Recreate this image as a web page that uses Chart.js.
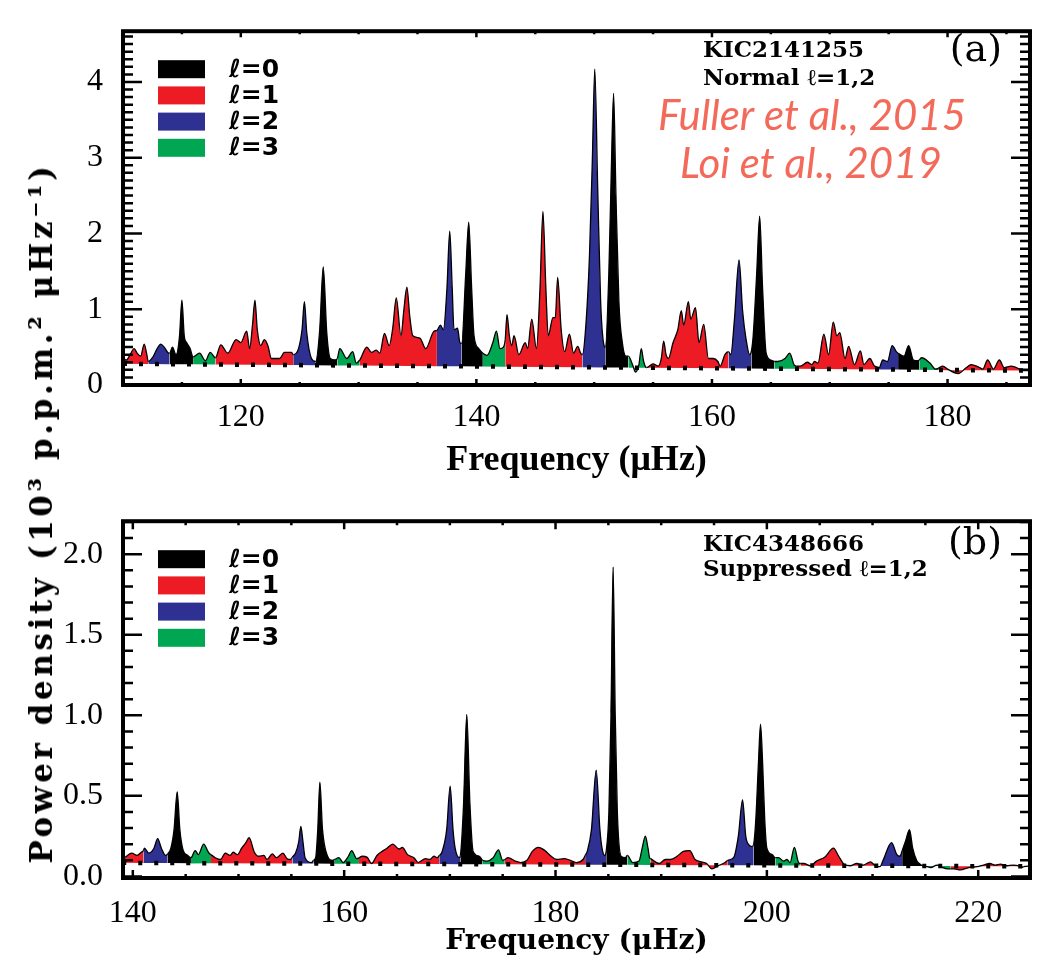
<!DOCTYPE html>
<html>
<head>
<meta charset="utf-8">
<script src="https://cdn.jsdelivr.net/npm/chart.js@4/dist/chart.umd.min.js"></script>
<style>
  body { margin: 0; background: #fff; width: 1039px; height: 966px; position: relative; overflow: hidden; }
  canvas { position: absolute; left: 0; }
  #chartA { top: 0; }
  #chartB { top: 490px; }
  #ytitle {
    position: absolute; left: 41px; top: 513px;
    transform: translate(-50%, -50%) rotate(-90deg);
    white-space: nowrap; font: bold 31px 'DejaVu Serif'; letter-spacing: 3.6px; color: #000;
  }
</style>
</head>
<body>
<canvas id="chartA" width="1039" height="490"></canvas>
<canvas id="chartB" width="1039" height="476"></canvas>
<div id="ytitle">Power density (10³ p.p.m.² μHz⁻¹)</div>
<script>
const modeLabels = ['ℓ=0', 'ℓ=1', 'ℓ=2', 'ℓ=3'];
const modeColors = ['#000000', '#ED1C24', '#2E3192', '#00A651'];

// panel (a) KIC2141255 - power spectrum, frequency in muHz, power in 10^3 ppm^2/muHz
const freqA = [
  110.0, 110.3, 110.6, 110.95, 111.2, 111.5, 111.8, 112.0,
  112.15, 112.5, 112.9, 113.2, 113.5, 113.8,
  113.95, 114.2, 114.5, 114.8, 115.0, 115.2, 115.4, 115.7,
  115.95, 116.5, 117.0, 117.4,
  117.85, 118.3, 118.9, 119.6, 120.0, 120.5, 120.75, 121.0, 121.2, 121.4, 121.7, 122.0, 122.3, 122.6, 123.3, 123.7, 124.3,
  124.45, 124.9, 125.2, 125.4, 125.6, 126.0,
  126.35, 126.7, 127.0, 127.3, 127.6, 128.0,
  128.2, 128.4, 129.0, 129.5, 129.8,
  130.1, 130.7, 131.1, 131.5, 131.8, 132.2, 132.6, 132.9, 133.2, 133.6, 133.85, 134.1, 134.35, 134.6, 135.2, 135.7, 136.4,
  136.65, 136.95, 137.2, 137.5, 137.74, 137.95, 138.1, 138.4, 138.6,
  138.75, 139.1, 139.35, 139.6, 139.8, 140.2,
  140.55, 140.9, 141.4, 141.7, 142.0, 142.3,
  142.45, 142.6, 142.8, 143.0, 143.2, 143.6, 144.15, 144.35, 144.7, 145.1, 145.4, 145.65, 145.9, 146.1, 146.5, 146.7, 146.9, 147.2, 147.5, 147.9, 148.25, 148.6, 148.85,
  149.0, 149.3, 149.6, 149.85, 150.05, 150.3, 150.55, 150.8,
  150.95, 151.25, 151.45, 151.65, 151.85, 152.1, 152.4, 152.7,
  152.9, 153.3, 153.5, 153.8, 154.0, 154.2,
  154.45, 155.0, 155.45, 155.7, 155.9, 156.1, 156.3, 156.7, 157.1, 157.4, 157.6, 158.0, 158.2, 158.6, 158.9, 159.3, 159.7, 160.1, 160.5, 160.7, 161.1,
  161.4, 161.6, 161.9, 162.3, 162.6, 162.9, 163.2,
  163.35, 163.5, 163.8, 164.05, 164.3, 164.6, 165.0,
  165.3, 165.6, 166.2, 166.6, 167.0,
  167.2, 167.5, 168.1, 168.5, 168.7, 169.0, 169.5, 169.9, 170.3, 170.6, 170.85, 171.3, 171.6, 172.1, 172.6, 172.9, 173.4, 173.8,
  174.0, 174.2, 174.5, 174.9, 175.3, 175.65,
  175.8, 176.3, 176.7, 177.1, 177.45,
  177.6, 177.8, 178.5, 179.0,
  179.2, 179.6, 180.0, 180.9, 181.6, 182.0, 182.6, 183.0, 183.4, 183.9, 184.4, 184.8, 185.4, 185.7, 186.1,
  186.3, 187.0
];
const powerA = [
  0.36, 0.33, 0.40, 0.48, 0.42, 0.38, 0.54, 0.42,
  0.31, 0.36, 0.48, 0.54, 0.50, 0.43,
  0.42, 0.50, 0.40, 0.65, 1.12, 0.65, 0.56, 0.48,
  0.37, 0.42, 0.32, 0.43,
  0.36, 0.53, 0.42, 0.60, 0.56, 0.71, 0.48, 0.80, 1.12, 0.73, 0.52, 0.60, 0.52, 0.35, 0.35, 0.43, 0.43,
  0.40, 0.48, 0.73, 1.10, 0.69, 0.35,
  0.31, 0.73, 1.56, 0.69, 0.35, 0.33,
  0.35, 0.48, 0.35, 0.44, 0.29,
  0.33, 0.50, 0.43, 0.46, 0.42, 0.68, 0.52, 0.75, 1.15, 0.65, 1.00, 1.29, 0.90, 0.65, 0.62, 0.48, 0.71,
  0.72, 0.79, 0.73, 1.27, 2.03, 1.27, 0.73, 0.75, 0.56,
  0.55, 1.48, 2.15, 1.27, 0.65, 0.48,
  0.42, 0.39, 0.56, 0.71, 0.48, 0.50,
  0.60, 0.93, 0.65, 0.52, 0.65, 0.40, 0.56, 0.48, 0.87, 0.48, 1.27, 2.29, 1.27, 0.65, 0.89, 0.89, 1.42, 0.73, 0.44, 0.67, 0.42, 0.51, 0.42,
  0.40, 0.80, 1.70, 3.00, 4.17, 2.60, 1.10, 0.55,
  0.50, 1.50, 2.80, 3.85, 2.50, 1.10, 0.55, 0.38,
  0.38, 0.25, 0.17, 0.27, 0.48, 0.31,
  0.23, 0.28, 0.25, 0.35, 0.58, 0.40, 0.35, 0.56, 0.73, 0.98, 0.79, 1.10, 0.87, 1.02, 0.56, 0.80, 0.35, 0.35, 0.31, 0.25, 0.40,
  0.44, 0.40, 0.85, 1.65, 0.98, 0.60, 0.40,
  0.45, 0.65, 1.48, 2.23, 1.27, 0.42, 0.33,
  0.31, 0.31, 0.35, 0.42, 0.26,
  0.25, 0.25, 0.30, 0.27, 0.31, 0.29, 0.67, 0.40, 0.83, 0.65, 0.69, 0.35, 0.51, 0.27, 0.45, 0.27, 0.35, 0.25,
  0.24, 0.23, 0.33, 0.31, 0.52, 0.44,
  0.42, 0.38, 0.52, 0.33, 0.32,
  0.33, 0.36, 0.29, 0.21,
  0.22, 0.25, 0.21, 0.15, 0.23, 0.27, 0.24, 0.21, 0.33, 0.21, 0.33, 0.23, 0.25, 0.24, 0.21,
  0.19, 0.19
];
// where each coloured mode region starts, and its degree
const runStartA = [110.0, 112.15, 113.95, 115.95, 117.85, 124.45, 126.35, 128.2, 130.1, 136.65, 138.75, 140.55, 142.45,
  149.0, 150.95, 152.9, 154.45, 161.4, 163.35, 165.3, 167.2, 174.0, 175.8, 177.6, 179.2, 186.3];
const runModeA = [1, 2, 0, 3, 1, 2, 0, 3, 1, 2, 0, 3, 1, 2, 0, 3, 1, 2, 0, 3, 1, 2, 0, 3, 1, 2];
// background level (dotted)
const bgFreqA = [110, 187];
const bgPowerA = [0.28, 0.19];

// panel (b) KIC4348666
const freqB = [
  139.0, 139.3, 139.9, 140.4, 140.8,
  141.0, 141.1, 141.5, 142.0, 142.35, 142.7, 143.1,
  143.3, 143.6, 143.9, 144.2, 144.45, 144.75, 145.2,
  145.5, 145.9, 146.2, 146.7, 147.2,
  147.4, 147.8, 148.3, 148.75, 149.2, 149.5, 149.9, 150.3, 150.7, 151.0, 151.5, 151.9, 152.4, 152.7, 153.2, 153.6, 154.2, 154.6, 154.9,
  155.1, 155.4, 155.7, 155.9, 156.1, 156.3, 156.9,
  157.1, 157.3, 157.5, 157.7, 157.95, 158.4, 158.9,
  159.1, 159.5, 159.9, 160.4, 160.7, 161.2,
  161.4, 161.7, 162.15, 162.6, 163.1, 163.7, 164.05, 164.6, 165.2, 165.5, 166.0, 166.6, 167.0, 167.7, 168.1, 168.5, 168.8,
  169.0, 169.25, 169.7, 170.03, 170.3, 170.5, 170.9,
  171.0, 171.3, 171.6, 171.9, 172.2, 172.8,
  173.1, 173.5, 174.1, 174.6, 175.0,
  175.2, 175.5, 176.2, 176.7, 177.3, 177.8, 178.4, 179.0, 179.5, 180.1, 180.8, 181.4, 182.0, 182.6,
  182.8, 183.0, 183.4, 183.85, 184.2, 184.4, 184.65,
  184.8, 185.05, 185.25, 185.45, 185.65, 185.85, 186.2, 186.6,
  186.8, 187.3, 187.9, 188.2, 188.5, 188.75, 188.9,
  189.0, 189.8, 190.4, 190.9, 191.5, 192.1, 192.7, 193.2, 193.8, 194.3, 194.8, 195.4, 196.05,
  196.3, 196.85, 197.3, 197.7, 198.0, 198.3, 198.6,
  198.75, 198.95, 199.2, 199.4, 199.6, 199.8, 200.0, 200.5,
  200.8, 201.1, 201.6, 201.9, 202.2, 202.6, 203.0,
  203.2, 203.5, 204.1, 204.7, 205.5, 206.3, 206.8, 207.3, 207.9, 208.5, 209.1, 209.8, 210.2,
  210.5, 210.7, 211.0, 211.8, 212.3, 212.6,
  212.8, 213.1, 213.5, 213.8, 214.2, 214.5,
  214.8, 215.2, 215.5, 216.1, 216.6, 217.1,
  217.4, 217.7, 218.3, 219.1, 219.9, 220.5, 221.1, 221.6, 222.1, 222.7, 223.3, 223.8, 224.1,
  224.3, 225.0
];
const powerB = [
  0.110, 0.120, 0.145, 0.130, 0.150,
  0.160, 0.175, 0.145, 0.175, 0.234, 0.175, 0.130,
  0.140, 0.175, 0.290, 0.525, 0.290, 0.165, 0.130,
  0.116, 0.160, 0.135, 0.200, 0.145,
  0.135, 0.116, 0.105, 0.145, 0.130, 0.150, 0.135, 0.175, 0.210, 0.240, 0.150, 0.125, 0.130, 0.105, 0.140, 0.116, 0.145, 0.110, 0.105,
  0.120, 0.145, 0.215, 0.310, 0.215, 0.116, 0.086,
  0.100, 0.116, 0.290, 0.585, 0.290, 0.130, 0.100,
  0.105, 0.116, 0.086, 0.125, 0.160, 0.110,
  0.115, 0.125, 0.120, 0.080, 0.130, 0.160, 0.175, 0.200, 0.170, 0.180, 0.135, 0.116, 0.086, 0.110, 0.105, 0.125, 0.116,
  0.130, 0.150, 0.290, 0.560, 0.290, 0.175, 0.116,
  0.130, 0.450, 1.006, 0.450, 0.155, 0.125,
  0.100, 0.095, 0.116, 0.165, 0.100,
  0.105, 0.116, 0.095, 0.086, 0.100, 0.155, 0.180, 0.160, 0.130, 0.105, 0.110, 0.100, 0.086, 0.105,
  0.130, 0.155, 0.290, 0.660, 0.290, 0.175, 0.130,
  0.160, 0.400, 1.000, 1.920, 1.000, 0.400, 0.125, 0.116,
  0.130, 0.086, 0.095, 0.175, 0.250, 0.175, 0.116,
  0.110, 0.080, 0.105, 0.105, 0.125, 0.155, 0.160, 0.105, 0.090, 0.080, 0.047, 0.066, 0.086,
  0.100, 0.116, 0.250, 0.475, 0.250, 0.195, 0.185,
  0.200, 0.350, 0.700, 0.945, 0.700, 0.350, 0.175, 0.135,
  0.116, 0.116, 0.095, 0.105, 0.086, 0.180, 0.086,
  0.080, 0.080, 0.066, 0.095, 0.120, 0.175, 0.125, 0.076, 0.066, 0.080, 0.070, 0.090, 0.070,
  0.060, 0.060, 0.100, 0.210, 0.135, 0.125,
  0.160, 0.215, 0.290, 0.175, 0.095, 0.076,
  0.065, 0.060, 0.055, 0.070, 0.055, 0.047,
  0.047, 0.047, 0.040, 0.055, 0.060, 0.070, 0.080, 0.070, 0.076, 0.066, 0.070, 0.066, 0.055,
  0.060, 0.065
];
const runStartB = [139.0, 141.0, 143.3, 145.5, 147.4, 155.1, 157.1, 159.1, 161.4, 169.0, 171.0, 173.1, 175.2,
  182.8, 184.8, 186.8, 189.0, 196.3, 198.75, 200.8, 203.2, 210.5, 212.8, 214.8, 217.4, 224.3];
const runModeB = [1, 2, 0, 3, 1, 2, 0, 3, 1, 2, 0, 3, 1, 2, 0, 3, 1, 2, 0, 3, 1, 2, 0, 3, 1, 2];
const bgFreqB = [139, 225];
const bgPowerB = [0.084, 0.062];

const notesA = [
  { text: 'KIC2141255', x: 703, y: 57, font: 'bold 23px "DejaVu Serif"', color: '#000', align: 'left' },
  { text: 'Normal ℓ=1,2', x: 703, y: 85, font: 'bold 23px "DejaVu Serif"', color: '#000', align: 'left' },
  { text: '(a)', x: 1002, y: 61, font: '38px "DejaVu Serif"', color: '#000', align: 'right' },
  { text: 'Fuller et al., 2015', x: 812, y: 130, font: 'italic 42px Lato', color: '#F46A5A', align: 'center' },
  { text: 'Loi et al., 2019', x: 811, y: 178, font: 'italic 42px Lato', color: '#F46A5A', align: 'center' }
];
const notesB = [
  { text: 'KIC4348666', x: 703, y: 61, font: 'bold 23px "DejaVu Serif"', color: '#000', align: 'left' },
  { text: 'Suppressed ℓ=1,2', x: 703, y: 86, font: 'bold 23px "DejaVu Serif"', color: '#000', align: 'left' },
  { text: '(b)', x: 1002, y: 64, font: '38px "DejaVu Serif"', color: '#000', align: 'right' }
];

function runColor(starts, modes) {
  return ctx => {
    const x0 = ctx.p0.parsed.x;
    let k = 0;
    while (k + 1 < starts.length && starts[k + 1] <= x0 + 1e-9) k++;
    return modeColors[modes[k]];
  };
}

// inward ticks, thick frame, legend and text notes
const decor = {
  id: 'decor',
  afterDraw(chart, args, o) {
    const { ctx, chartArea: a, scales: { x, y } } = chart;
    ctx.save();
    ctx.strokeStyle = '#000';
    ctx.lineWidth = 2.5;
    ctx.beginPath();
    for (let k = Math.ceil(x.min / o.xMinor); k * o.xMinor <= x.max; k++) {
      const px = x.getPixelForValue(k * o.xMinor);
      const len = (k % o.xEvery === 0) ? o.xMajorLen : o.xMinorLen;
      ctx.moveTo(px, a.bottom); ctx.lineTo(px, a.bottom - len);
      ctx.moveTo(px, a.top); ctx.lineTo(px, a.top + len);
    }
    for (let k = Math.ceil(y.min / o.yMinor - 1e-6); k * o.yMinor <= y.max + 1e-9; k++) {
      const py = y.getPixelForValue(k * o.yMinor);
      const len = (k % o.yEvery === 0) ? o.yMajorLen : o.yMinorLen;
      ctx.moveTo(a.left, py); ctx.lineTo(a.left + len, py);
      ctx.moveTo(a.right, py); ctx.lineTo(a.right - len, py);
    }
    ctx.stroke();
    ctx.lineWidth = 4;
    ctx.strokeRect(a.left, a.top, a.right - a.left, a.bottom - a.top);

    // legend
    modeLabels.forEach((lab, i) => {
      const top = a.top + 29 + i * 26.2;
      ctx.fillStyle = modeColors[i];
      ctx.fillRect(a.left + 35, top, 47, 18);
      ctx.fillStyle = '#000';
      ctx.font = 'bold 25px "DejaVu Sans"';
      ctx.textAlign = 'left';
      ctx.textBaseline = 'middle';
      ctx.fillText(lab, a.left + 106, top + 10);
    });

    ctx.textBaseline = 'alphabetic';
    o.notes.forEach(n => {
      ctx.font = n.font;
      ctx.fillStyle = n.color;
      ctx.textAlign = n.align;
      ctx.fillText(n.text, n.x, n.y);
    });
    ctx.restore();
  }
};

function makeChart(id, cfg) {
  const spectrum = cfg.freq.map((f, i) => ({ x: f, y: cfg.power[i] }));
  const background = cfg.bgFreq.map((f, i) => ({ x: f, y: cfg.bgPower[i] }));
  return new Chart(document.getElementById(id), {
    type: 'line',
    data: {
      datasets: [
        {
          data: background,
          borderColor: '#000',
          borderWidth: 4.5,
          borderDash: [4, 12],
          borderCapStyle: 'butt',
          pointRadius: 0,
          fill: false
        },
        {
          data: spectrum,
          borderColor: '#000',
          borderWidth: 1.3,
          pointRadius: 0,
          cubicInterpolationMode: 'monotone',
          fill: 0,
          backgroundColor: modeColors[1],
          segment: { backgroundColor: runColor(cfg.runStart, cfg.runMode) }
        }
      ]
    },
    options: {
      responsive: false,
      devicePixelRatio: 1,
      animation: false,
      events: [],
      layout: { padding: { left: 0, right: 9, top: 13, bottom: 0 } },
      plugins: {
        legend: { display: false },
        tooltip: { enabled: false },
        decor: cfg.decor
      },
      scales: {
        x: {
          type: 'linear',
          min: cfg.xMin, max: cfg.xMax,
          grid: { display: false },
          border: { display: false },
          ticks: {
            stepSize: 20, includeBounds: false, maxRotation: 0,
            padding: cfg.xTickPad, color: '#000',
            font: { family: 'Liberation Serif', size: 32 }
          },
          title: {
            display: true, text: 'Frequency (μHz)', color: '#000',
            font: { family: cfg.titleFamily, size: cfg.titleSize, weight: 'bold' },
            padding: { top: 0, bottom: cfg.titlePad }
          },
          afterFit: s => { s.height = cfg.xAxisHeight; }
        },
        y: {
          min: cfg.yMin, max: cfg.yMax,
          grid: { display: false },
          border: { display: false },
          ticks: {
            stepSize: cfg.yStep, includeBounds: false,
            padding: 12, color: '#000',
            font: { family: 'Liberation Serif', size: 32 },
            callback: cfg.yFormat
          },
          afterFit: s => { s.width = 123; }
        }
      }
    },
    plugins: [decor]
  });
}

makeChart('chartA', {
  freq: freqA, power: powerA, runStart: runStartA, runMode: runModeA,
  bgFreq: bgFreqA, bgPower: bgPowerA,
  xMin: 110, xMax: 187, yMin: 0, yMax: 4.67, yStep: 1,
  yFormat: v => String(v),
  xTickPad: 5, xAxisHeight: 105,
  titleFamily: 'Liberation Serif', titleSize: 36, titlePad: 8,
  decor: { xMinor: 5, xEvery: 4, xMajorLen: 6, xMinorLen: 3, yMinor: 0.1, yEvery: 10, yMajorLen: 19, yMinorLen: 10, notes: notesA }
});

makeChart('chartB', {
  freq: freqB, power: powerB, runStart: runStartB, runMode: runModeB,
  bgFreq: bgFreqB, bgPower: bgPowerB,
  xMin: 139.07, xMax: 224.9, yMin: -0.01, yMax: 2.205, yStep: 0.5,
  yFormat: v => v.toFixed(1),
  xTickPad: 8, xAxisHeight: 88,
  titleFamily: 'DejaVu Serif', titleSize: 28, titlePad: 7,
  decor: { xMinor: 5, xEvery: 4, xMajorLen: 8, xMinorLen: 4, yMinor: 0.1, yEvery: 5, yMajorLen: 19, yMinorLen: 10, notes: notesB }
});
</script>
</body>
</html>
